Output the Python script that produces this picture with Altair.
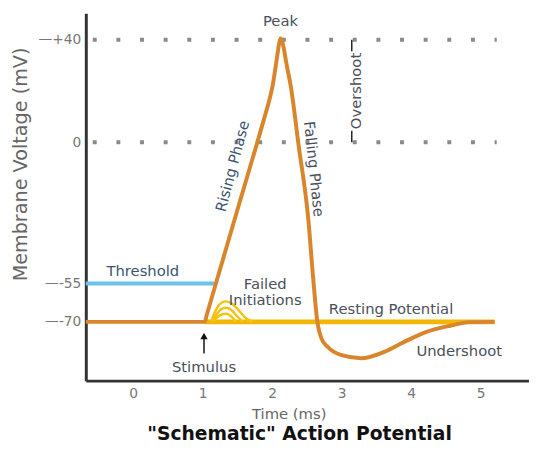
import altair as alt
import pandas as pd

# ---------------- data ----------------
# Action potential trace: time (ms) and membrane voltage (mV)
ap_time = [-0.68, 1.03, 1.06, 1.50, 1.90, 1.96, 2.01, 2.05, 2.08, 2.10, 2.12, 2.145,
           2.17, 2.20, 2.27, 2.38, 2.52, 2.59, 2.65, 2.71, 2.80, 3.00, 3.28, 3.61,
           3.90, 4.22, 4.56, 4.84, 5.20]
ap_mv = [-70, -70, -67.2, -26.4, 10.7, 16.5, 22.5, 29.5, 35, 38.5, 40.5, 39.3,
         36.3, 31.5, 21.5, -1, -30, -53, -70, -76.5, -79.8, -83, -84.2, -81.7,
         -77.8, -73.9, -71.5, -70.1, -70]

# Failed initiations (three sub-threshold bumps)
fail1_time = [1.12, 1.18, 1.25, 1.33, 1.42, 1.52, 1.62, 1.72]
fail1_mv = [-70, -66, -63, -62, -62.8, -65.5, -68.5, -70]
fail2_time = [1.13, 1.19, 1.26, 1.33, 1.41, 1.49, 1.58]
fail2_mv = [-70, -67.5, -65.2, -64.5, -65.3, -67.6, -70]
fail3_time = [1.14, 1.20, 1.27, 1.34, 1.41, 1.48]
fail3_mv = [-70, -68.4, -67.2, -66.8, -67.8, -70]

# Reference levels
resting_mv = -70
resting_span = [1.03, 5.20]
threshold_mv = -55
threshold_span = [-0.68, 1.19]
dotted_levels = [40, 0]
dotted_span = [-0.58, 5.23]

# Axis ticks
x_ticks = [0, 1, 2, 3, 4, 5]
y_ticks = [40, 0, -55, -70]
y_tick_labels = ["\u2014+40", "0", "\u2014-55", "\u2014-70"]

# Text annotations: label, time, voltage, angle
ann_text = ["Peak", "Threshold", "Failed\nInitiations", "Resting Potential",
            "Undershoot", "Stimulus", "Rising Phase", "Falling Phase", "Overshoot"]
ann_time = [2.12, 0.14, 1.90, 3.71, 4.69, 1.02, 1.43, 2.60, 3.20]
ann_mv = [47.3, -50.3, -55.2, -64.9, -81.4, -87.6, -9.3, -10.4, 20.0]
ann_angle = [0, 0, 0, 0, 0, 0, 285, 84, 270]
ann_color = ["#4a4f5a", "#3d5470", "#4a4f5a", "#4a4f5a",
             "#4a4f5a", "#4a4f5a", "#3d5470", "#4a4f5a", "#4a4f5a"]

# Stimulus arrow and overshoot bracket
stim_time = 1.02
stim_mv = [-76, -82.3]
stim_head_mv = -75.5
over_time = 3.145
over_top = [40, 35.5]
over_bottom = [4.5, 0]

# ---------------- scales ----------------
x_scale = alt.Scale(domain=[-0.68, 5.694], nice=False, zero=False)
y_scale = alt.Scale(domain=[-92.9, 50.3], nice=False, zero=False)

label_expr = ""
for v, lab in zip(y_ticks, y_tick_labels):
    label_expr += f"datum.value == {v} ? '{lab}' : "
label_expr += "''"

X = lambda f: alt.X(f, type="quantitative", scale=x_scale,
                    axis=alt.Axis(values=x_ticks, title="Time (ms)", labelPadding=6,
                                  titleX=206, titleY=33, titleBaseline="middle",
                                  titleAlign="center", titleFontSize=15,
                                  titleFontWeight="normal", titleColor="#666"))
Y = lambda f: alt.Y(f, type="quantitative", scale=y_scale,
                    axis=alt.Axis(values=y_ticks, labelExpr=label_expr,
                                  title="Membrane Voltage (mV)", labelPadding=5,
                                  titleX=-66, titleY=153, titleAngle=270,
                                  titleBaseline="middle", titleAlign="center",
                                  titleFontSize=19.5, titleFontWeight="normal",
                                  titleColor="#666"))

# dotted reference levels
dots_df = pd.DataFrame({"mv": dotted_levels, "t0": dotted_span[0], "t1": dotted_span[1]})
dots = alt.Chart(dots_df).mark_rule(color="#8a8a8a", strokeWidth=4,
                                    strokeDash=[4, 20]).encode(
    x=X("t0"), x2="t1", y=Y("mv"))

thr_df = pd.DataFrame({"mv": [threshold_mv], "t0": [threshold_span[0]], "t1": [threshold_span[1]]})
thr = alt.Chart(thr_df).mark_rule(color="#6cc1e8", strokeWidth=4).encode(
    x=X("t0"), x2="t1", y=Y("mv"))

rest_df = pd.DataFrame({"mv": [resting_mv], "t0": [resting_span[0]], "t1": [resting_span[1]]})
rest = alt.Chart(rest_df).mark_rule(color="#f2b705", strokeWidth=5).encode(
    x=X("t0"), x2="t1", y=Y("mv"))

fail_rows = []
for k, (ts, vs) in enumerate([(fail1_time, fail1_mv), (fail2_time, fail2_mv), (fail3_time, fail3_mv)]):
    for i, (t, v) in enumerate(zip(ts, vs)):
        fail_rows.append({"bump": k, "i": i, "t": t, "mv": v})
fail_df = pd.DataFrame(fail_rows)
fails = alt.Chart(fail_df).mark_line(color="#f5c211", strokeWidth=2.5,
                                     interpolate="monotone").encode(
    x=X("t"), y=Y("mv"), detail="bump:N", order="i:Q")

ap_df = pd.DataFrame({"t": ap_time, "mv": ap_mv, "i": list(range(len(ap_time)))})
ap = alt.Chart(ap_df).mark_line(color="#d9852b", strokeWidth=4,
                                interpolate="monotone").encode(
    x=X("t"), y=Y("mv"), order="i:Q")

stim_df = pd.DataFrame({"t": [stim_time], "a": [stim_mv[0]], "b": [stim_mv[1]]})
stim = alt.Chart(stim_df).mark_rule(color="#111", strokeWidth=1.5).encode(
    x=X("t"), y=Y("a"), y2="b")
stim_head = alt.Chart(pd.DataFrame({"t": [stim_time], "mv": [stim_head_mv]})).mark_point(
    shape="triangle-up", filled=True, color="#111", size=55, opacity=1).encode(
    x=X("t"), y=Y("mv"))

over_df = pd.DataFrame({"t": [over_time, over_time],
                        "a": [over_top[0], over_bottom[0]],
                        "b": [over_top[1], over_bottom[1]]})
over = alt.Chart(over_df).mark_rule(color="#222", strokeWidth=1.5).encode(
    x=X("t"), y=Y("a"), y2="b")

ann_df = pd.DataFrame({"text": ann_text, "t": ann_time, "mv": ann_mv,
                       "angle": ann_angle, "color": ann_color})
ann = alt.Chart(ann_df).mark_text(font="DejaVu Sans", fontSize=15,
                                  baseline="middle", align="center",
                                  lineBreak="\n", lineHeight=16.5).encode(
    x=X("t"), y=Y("mv"), text="text:N",
    angle=alt.Angle("angle:Q", scale=None),
    color=alt.Color("color:N", scale=None))

chart = alt.layer(dots, thr, rest, fails, ap, stim, stim_head, over, ann).properties(
    width=450, height=373,
    autosize=alt.AutoSizeParams(type="none"),
    padding={"left": 79, "top": 2, "right": 0, "bottom": 63},
    title=alt.Title('"Schematic" Action Potential', orient="bottom", anchor="middle",
                    font="DejaVu Sans", fontSize=19, fontWeight="bold",
                    color="#111", offset=4, dx=-8),
).configure_view(stroke=None).configure_axis(
    domainColor="#333", domainWidth=3, ticks=False, grid=False,
    labelFont="DejaVu Sans", labelFontSize=14, labelColor="#777",
    titleFont="DejaVu Sans"
)

chart.save("out.html", embed_options={"renderer": "svg", "actions": False})
